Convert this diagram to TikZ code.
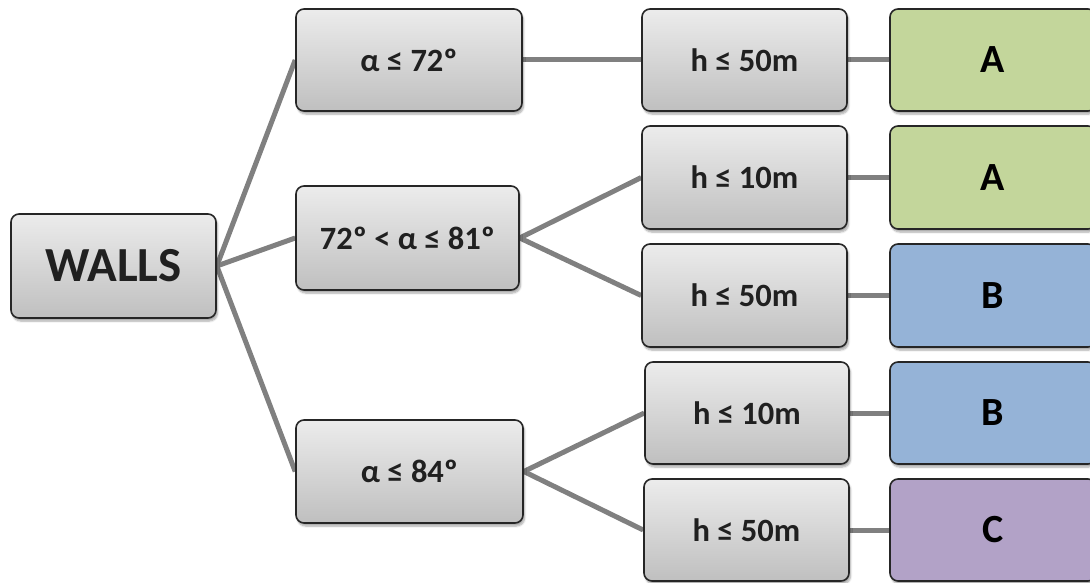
\documentclass[tikz,border=0pt]{standalone}
\usepackage{fontspec}
\setmainfont{Carlito}
\usetikzlibrary{shadows.blur,backgrounds}
\definecolor{boxline}{HTML}{262626}
\definecolor{txt}{HTML}{202020}
\definecolor{lnk}{HTML}{808080}
\definecolor{cA}{HTML}{C3D69B}
\definecolor{cB}{HTML}{95B3D7}
\definecolor{cC}{HTML}{B2A2C7}
\tikzset{
  basebox/.style={rectangle, rounded corners=8pt, draw=boxline, line width=1.6pt,
    inner sep=0pt, align=center, font=\bfseries,
    blur shadow={shadow xshift=1.5pt, shadow yshift=-3pt, shadow blur steps=6, shadow opacity=35}},
  graybox/.style={basebox, top color=gray!15, bottom color=gray!50, text=txt},
  rootbox/.style={graybox, minimum width=205pt, minimum height=104pt, font=\bfseries\fontsize{49}{56}\selectfont},
  condbox/.style={graybox, minimum height=103pt, font=\bfseries\fontsize{32.5}{38}\selectfont},
  classbox/.style={basebox, minimum width=206pt, minimum height=103pt, text=black, font=\bfseries\fontsize{40}{46}\selectfont},
  link/.style={draw=lnk, line width=5pt}
}
\begin{document}
\begin{tikzpicture}[x=1pt,y=-1pt]
\useasboundingbox (0,0) rectangle (1090,583);
\clip (0,0) rectangle (1090,583);
% root
\node[rootbox] (walls) at (113.5,266) {WALLS};
% level 1
\node[condbox, minimum width=226pt, minimum height=102pt] (a1) at (409,60) {α ≤ 72º};
\node[condbox, minimum width=223pt, minimum height=104pt] (a2) at (407.5,238) {72º < α ≤ 81º};
\node[condbox, minimum width=227pt] (a3) at (409.5,471.5) {α ≤ 84º};
% level 2
\node[condbox, minimum width=205pt, minimum height=102pt] (h1) at (744.5,60) {h ≤ 50m};
\node[condbox, minimum width=205pt] (h2) at (744.5,177.5) {h ≤ 10m};
\node[condbox, minimum width=205pt] (h3) at (744.5,295.5) {h ≤ 50m};
\node[condbox, minimum width=204pt, minimum height=102pt] (h4) at (747,413) {h ≤ 10m};
\node[condbox, minimum width=205pt, minimum height=102pt] (h5) at (746.5,530) {h ≤ 50m};
% level 3
\node[classbox, fill=cA, minimum height=102pt] (c1) at (993,60) {A};
\node[classbox, fill=cA] (c2) at (993,177.5) {A};
\node[classbox, fill=cB] (c3) at (993,295.5) {B};
\node[classbox, fill=cB, minimum height=102pt] (c4) at (993,413) {B};
\node[classbox, fill=cC, minimum height=102pt] (c5) at (993,530) {C};
% connectors
\begin{pgfonlayer}{background}
\draw[link] (walls.east) -- (a1.west);
\draw[link] (walls.east) -- (a2.west);
\draw[link] (walls.east) -- (a3.west);
\draw[link] (a1.east) -- (h1.west);
\draw[link] (a2.east) -- (h2.west);
\draw[link] (a2.east) -- (h3.west);
\draw[link] (a3.east) -- (h4.west);
\draw[link] (a3.east) -- (h5.west);
\draw[link] (h1.east) -- (c1.west);
\draw[link] (h2.east) -- (c2.west);
\draw[link] (h3.east) -- (c3.west);
\draw[link] (h4.east) -- (c4.west);
\draw[link] (h5.east) -- (c5.west);
\end{pgfonlayer}
\end{tikzpicture}
\end{document}
